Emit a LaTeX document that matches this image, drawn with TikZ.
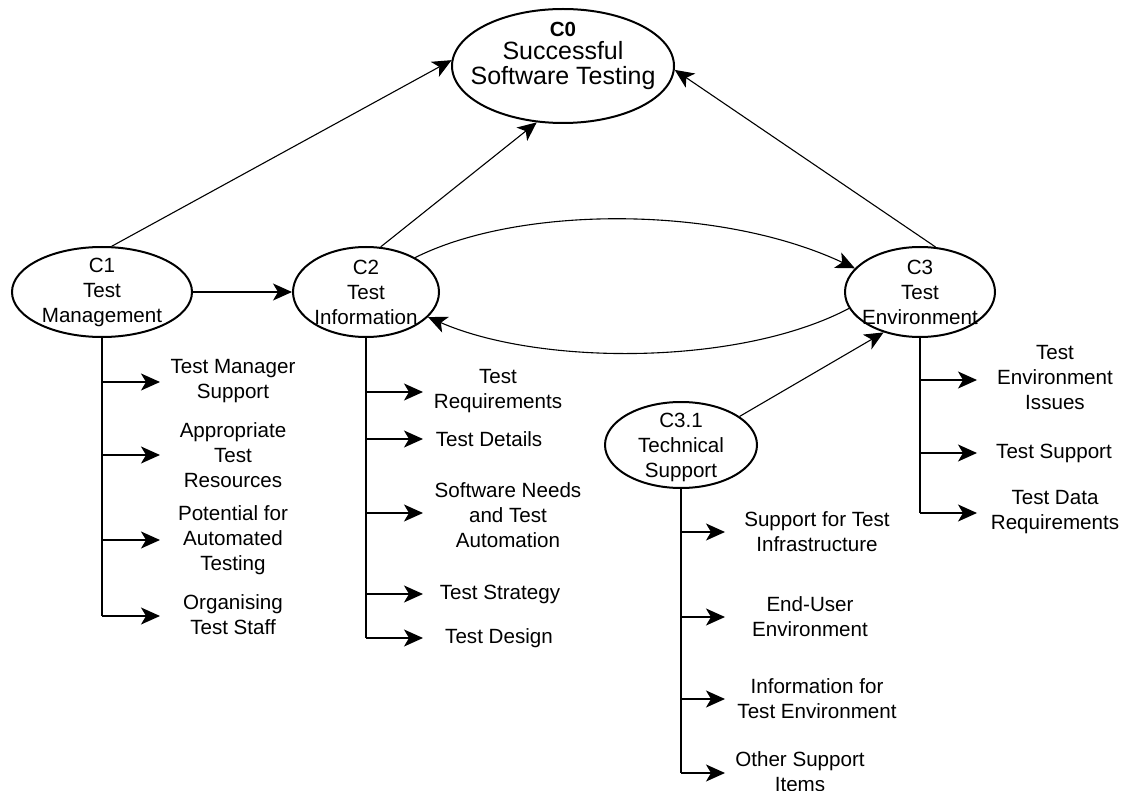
\documentclass[tikz,border=0pt]{standalone}
\usepackage{fontspec}
\setmainfont{Liberation Sans}
\usetikzlibrary{shapes.geometric,arrows.meta}
\begin{document}
\begin{tikzpicture}[x=1pt,y=-1pt,
  factor/.style={draw,ellipse,line width=2pt,inner sep=0pt},
  txt/.style={align=center,font=\fontsize{20.6}{25}\selectfont,inner sep=0pt},
  tip/.style={-{Stealth[length=19pt,width=17pt,inset=5pt]}},
  link/.style={line width=1.1pt,tip},
  trunk/.style={line width=1.4pt},
  branch/.style={line width=1.4pt,tip}]
\useasboundingbox (0,0) rectangle (1123,791);

% factor ellipses
\node[factor,minimum width=222pt,minimum height=114pt] (c0) at (563,66) {};
\node[factor,minimum width=180pt,minimum height=90pt] (c1) at (102,292) {};
\node[factor,minimum width=146pt,minimum height=90pt] (c2) at (366,292) {};
\node[factor,minimum width=150pt,minimum height=90pt] (c3) at (920,292) {};
\node[factor,minimum width=152pt,minimum height=86pt] (c31) at (681,445) {};

% factor titles
\node[txt] (t0) at (563,56) {{\fontsize{20.5}{22}\selectfont\bfseries C0}\\[-2pt]
  {\fontsize{25}{28}\selectfont Successful}\\{\fontsize{25}{28}\selectfont Software Testing}};
\node[txt] (t1) at (102,292) {C1\\Test\\Management};
\node[txt] (t2) at (366,292) {C2\\Test\\Information};
\node[txt] (t3) at (920,292) {C3\\Test\\Environment};
\node[txt] (t31) at (681,447) {C3.1\\Technical\\Support};

% links between factors
\draw[link] (c1.78) -- (c0.177);
\draw[link] (c2.72) -- (c0.245);
\draw[link] (c3.71) -- (c0.-2);
\draw[link] (c1.east) -- (c2.west);
\draw[link] (c2.35) .. controls (520,205) and (720,205) .. (c3.160);
\draw[link] (c3.193) .. controls (740,366) and (540,366) .. (c2.-22);
\draw[link] (c31.26) -- (c3.228);

% branch arrow tips, C1
\coordinate (a11) at (160,382);
\coordinate (a12) at (160,455);
\coordinate (a13) at (160,540);
\coordinate (a14) at (160,616);
% branch arrow tips, C2
\coordinate (a21) at (423,392);
\coordinate (a22) at (423,439);
\coordinate (a23) at (423,513);
\coordinate (a24) at (423,594);
\coordinate (a25) at (423,638);
% branch arrow tips, C3
\coordinate (a31) at (977,380);
\coordinate (a32) at (977,453);
\coordinate (a33) at (977,513);
% branch arrow tips, C3.1
\coordinate (b1) at (725,532);
\coordinate (b2) at (725,617);
\coordinate (b3) at (725,699);
\coordinate (b4) at (725,773);

% trunks down to the last branch
\draw[trunk] (c1.south) -- (c1.south |- a14);
\draw[trunk] (c2.south) -- (c2.south |- a25);
\draw[trunk] (c3.south) -- (c3.south |- a33);
\draw[trunk] (c31.south) -- (c31.south |- b4);

\foreach \p in {a11,a12,a13,a14} \draw[branch] (c1.south |- \p) -- (\p);
\foreach \p in {a21,a22,a23,a24,a25} \draw[branch] (c2.south |- \p) -- (\p);
\foreach \p in {a31,a32,a33} \draw[branch] (c3.south |- \p) -- (\p);
\foreach \p in {b1,b2,b3,b4} \draw[branch] (c31.south |- \p) -- (\p);

% C1 items
\node[txt] (l11) at (233,381) {Test Manager\\Support};
\node[txt] (l12) at (233,455) {Appropriate\\Test\\Resources};
\node[txt] (l13) at (233,540) {Potential for\\Automated\\Testing};
\node[txt] (l14) at (233,615) {Organising\\Test Staff};
% C2 items
\node[txt] (l21) at (498,391) {Test\\Requirements};
\node[txt] (l22) at (489,439) {Test Details};
\node[txt] (l23) at (508,515) {Software Needs\\and Test\\Automation};
\node[txt] (l24) at (500,594) {Test Strategy};
\node[txt] (l25) at (499,638) {Test Design};
% C3 items
\node[txt] (l31) at (1055,378) {Test\\Environment\\Issues};
\node[txt] (l32) at (1054,453) {Test Support};
\node[txt] (l33) at (1055,512) {Test Data\\Requirements};
% C3.1 items
\node[txt] (m1) at (817,532) {Support for Test\\Infrastructure};
\node[txt] (m2) at (810,617) {End-User\\Environment};
\node[txt] (m3) at (817,699) {Information for\\Test Environment};
\node[txt] (m4) at (800,772) {Other Support\\Items};
\end{tikzpicture}
\end{document}
